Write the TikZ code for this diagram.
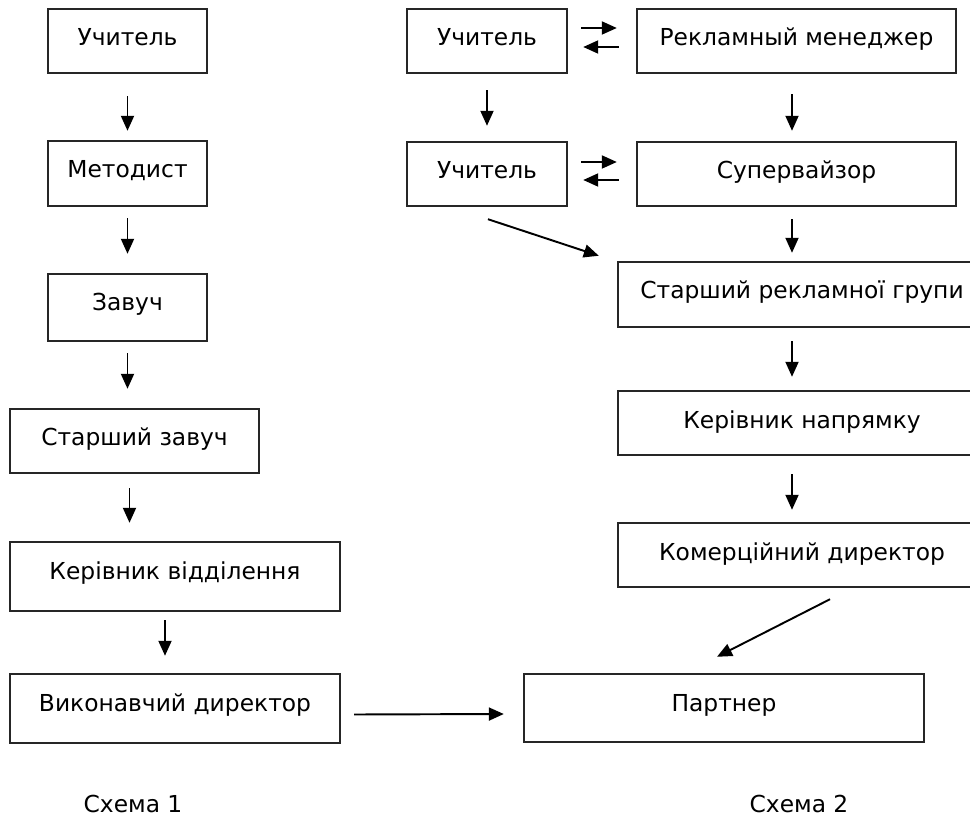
\documentclass[tikz,border=0pt]{standalone}
\usepackage{fontspec}
\setmainfont{DejaVu Sans}
\usetikzlibrary{arrows.meta,calc}

\begin{document}
\begin{tikzpicture}[x=0.02cm,y=-0.02cm,
	box/.style={shape=rectangle,draw=black!85,line width=1.4pt,inner sep=0pt,text height=0.74cm,text depth=0.54cm,font=\fontsize{13.3}{16}\selectfont},
	arr/.style={-{Triangle[length=0.3cm,width=0.26cm]},line width=1.1pt},
	caption/.style={anchor=base,font=\fontsize{13.3}{16}\selectfont}]
	\useasboundingbox (0,0) rectangle (970,817);

	% Схема 1
	\node[box,minimum width=3.18cm] (l1) at (127.5,41)    {Учитель};
	\node[box,minimum width=3.18cm,text depth=0.56cm] (l2) at (127.5,173.5)  {Методист};
	\node[box,minimum width=3.18cm,text depth=0.6cm] (l3) at (127.5,307.5)  {Завуч};
	\node[box,minimum width=4.98cm] (l4) at (134.5,441)   {Старший завуч};
	\node[box,minimum width=6.6cm,text depth=0.64cm] (l5) at (175,576.5)    {Керівник відділення};
	\node[box,minimum width=6.6cm,text depth=0.64cm] (l6) at (175,708.5)    {Виконавчий директор};

	% Схема 2
	\node[box,minimum width=3.2cm] (r1) at (487,41)      {Учитель};
	\node[box,minimum width=6.38cm] (r2) at (796.5,41)    {Рекламный менеджер};
	\node[box,minimum width=3.2cm] (r3) at (487,174)     {Учитель};
	\node[box,minimum width=6.38cm] (r4) at (796.5,174)   {Супервайзор};
	\node[box,minimum width=7.36cm,text depth=0.56cm] (r5) at (802,294.5)   {Старший рекламної групи};
	\node[box,minimum width=7.36cm] (r6) at (802,423)     {Керівник напрямку};
	\node[box,minimum width=7.36cm] (r7) at (802,555)     {Комерційний директор};
	\node[box,minimum width=8cm,text depth=0.62cm] (r8) at (724,708)     {Партнер};

	\node[caption] (c1) at (133,812) {Схема 1};
	\node[caption] (c2) at (799,812) {Схема 2};

	% вниз, схема 1
	\draw[arr,shorten <=0.44cm,shorten >=0.18cm] (l1.south) -- (l1.south |- l2.north);
	\draw[arr,shorten <=0.22cm,shorten >=0.38cm] (l2.south) -- (l2.south |- l3.north);
	\draw[arr,shorten <=0.22cm,shorten >=0.38cm] (l3.south) -- (l3.south |- l4.north);
	\draw[arr,shorten <=0.28cm,shorten >=0.36cm] ([xshift=-0.1cm]l4.south) -- ([xshift=-0.1cm]l4.south |- l5.north);
	\draw[arr,shorten <=0.16cm,shorten >=0.34cm] ([xshift=-0.2cm]l5.south) -- ([xshift=-0.2cm]l5.south |- l6.north);

	% вниз, схема 2
	\draw[arr,shorten <=0.32cm,shorten >=0.3cm] (r1.south) -- (r1.south |- r3.north);
	\draw[arr,shorten <=0.4cm,shorten >=0.2cm] ([xshift=-0.09cm]r2.south) -- ([xshift=-0.09cm]r2.south |- r4.north);
	\draw[arr,shorten <=0.24cm,shorten >=0.16cm] ([xshift=-0.09cm]r4.south) -- ([xshift=-0.09cm]r4.south |- r5.north);
	\draw[arr,shorten <=0.26cm,shorten >=0.26cm] ([xshift=-0.2cm]r5.south) -- ([xshift=-0.2cm]r5.south |- r6.north);
	\draw[arr,shorten <=0.36cm,shorten >=0.24cm] ([xshift=-0.2cm]r6.south) -- ([xshift=-0.2cm]r6.south |- r7.north);

	% туди й назад
	\draw[arr] ($(r1.east)+(13,-13)$) -- ($(r2.west)+(-19,-13)$);
	\draw[arr] ($(r2.west)+(-17,6)$) -- ($(r1.east)+(15,6)$);
	\draw[arr] ($(r3.east)+(13,-12)$) -- ($(r4.west)+(-19,-12)$);
	\draw[arr] ($(r4.west)+(-17,6)$) -- ($(r3.east)+(15,6)$);

	% навскіс
	\draw[arr] ($(r3.south)+(1,12)$) -- ($(r5.north west)+(-18,-5)$);
	\draw[arr] ($(r7.south)+(28,11)$) -- ($(r8.north)+(-7,-16)$);
	\draw[arr] ($(l6.east)+(13,6)$) -- ($(r8.west)+(-19,6)$);
\end{tikzpicture}
\end{document}
